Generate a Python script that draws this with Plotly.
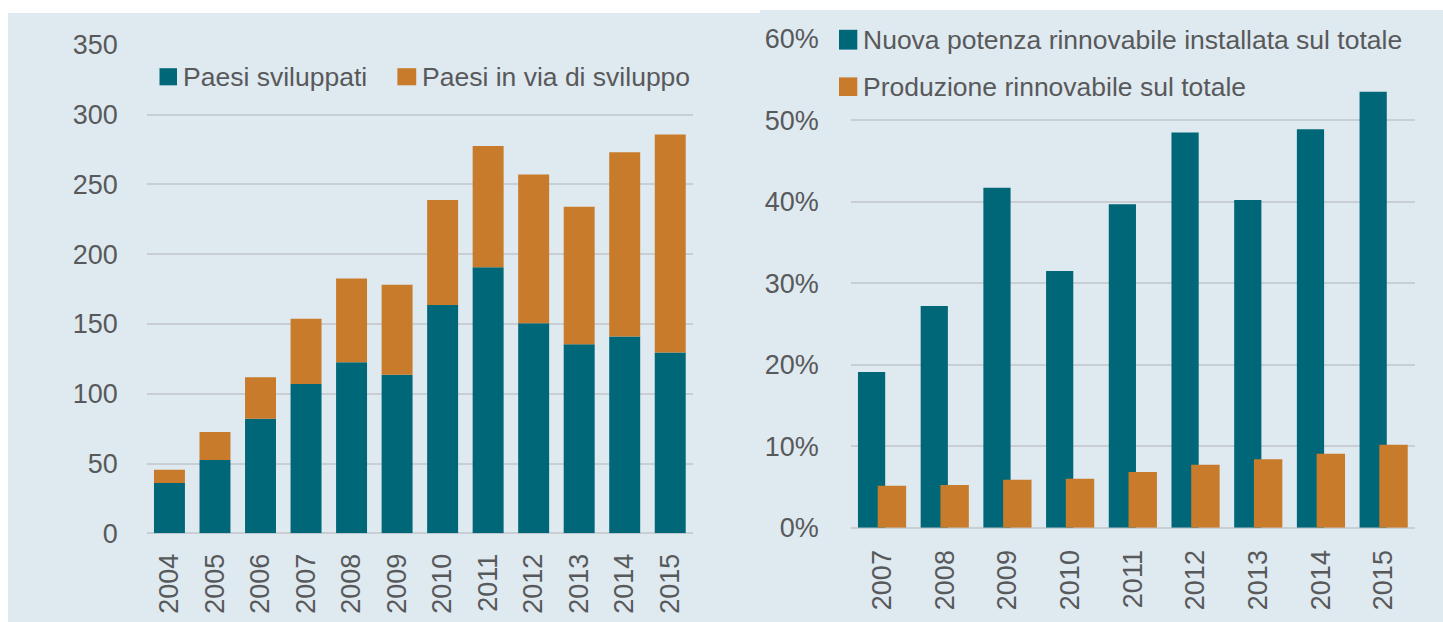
import plotly.graph_objects as go

# ---------------- data ----------------
years_left = ["2004", "2005", "2006", "2007", "2008", "2009",
              "2010", "2011", "2012", "2013", "2014", "2015"]
paesi_sviluppati = [36, 52.5, 82, 107, 122.5, 113.5, 163.5, 190.5, 150.5, 135.5, 141, 129.5]
paesi_in_via = [9.5, 20, 29.7, 46.7, 60, 64.5, 75.3, 87, 106.5, 98.5, 132, 156.2]
left_names = ["Paesi sviluppati", "Paesi in via di sviluppo"]

years_right = ["2007", "2008", "2009", "2010", "2011", "2012", "2013", "2014", "2015"]
nuova_potenza = [19.1, 27.2, 41.7, 31.5, 39.7, 48.5, 40.2, 48.9, 53.5]
produzione = [5.14, 5.24, 5.87, 6.01, 6.84, 7.71, 8.39, 9.07, 10.18]
right_names = ["Nuova potenza rinnovabile installata sul totale",
               "Produzione rinnovabile sul totale"]

left_ticks = [0, 50, 100, 150, 200, 250, 300, 350]
right_ticks = [0, 10, 20, 30, 40, 50, 60]
right_tick_labels = [f"{v}%" for v in right_ticks]

# ---------------- style ----------------
W, H = 1443, 622
TEAL = "#006778"
ORANGE = "#C87B2B"
BG = "#DFE9F0"
GRID = "#C9CED2"
TXT = "#58595B"
FONT = "Liberation Sans, Arial, sans-serif"
TICK_SIZE = 27
LEG_SIZE = 26.5


def fx(px):
    return px / W


def fy(py):
    return 1 - py / H


fig = go.Figure()

# left: stacked bars (overlay with base)
fig.add_trace(go.Bar(x=years_left, y=paesi_sviluppati, name=left_names[0],
                     marker=dict(color=TEAL, line=dict(width=0)), width=0.68,
                     xaxis="x", yaxis="y", showlegend=False))
fig.add_trace(go.Bar(x=years_left, y=paesi_in_via, base=paesi_sviluppati, name=left_names[1],
                     marker=dict(color=ORANGE, line=dict(width=0)), width=0.68,
                     xaxis="x", yaxis="y", showlegend=False))

# right: overlapping clustered bars
fig.add_trace(go.Bar(x=years_right, y=nuova_potenza, name=right_names[0],
                     marker=dict(color=TEAL, line=dict(width=0)), width=0.434, offset=-0.384,
                     xaxis="x2", yaxis="y2", showlegend=False))
fig.add_trace(go.Bar(x=years_right, y=produzione, name=right_names[1],
                     marker=dict(color=ORANGE, line=dict(width=0)), width=0.453, offset=-0.069,
                     xaxis="x2", yaxis="y2", showlegend=False))

tickfont = dict(family=FONT, size=TICK_SIZE, color=TXT)

xcommon = dict(type="category", showgrid=False, zeroline=False, showline=False, ticks="",
               tickangle=-90, tickfont=tickfont, automargin=False, fixedrange=True)
ycommon = dict(showgrid=True, gridcolor=GRID, gridwidth=1.5, zeroline=True, zerolinecolor=GRID,
               zerolinewidth=1.5, showline=False, ticks="", tickfont=tickfont, automargin=False,
               fixedrange=True, tickmode="array")

fig.update_layout(
    width=W, height=H,
    margin=dict(l=0, r=0, t=0, b=0),
    paper_bgcolor="white",
    plot_bgcolor="rgba(0,0,0,0)",
    barmode="overlay",
    font=dict(family=FONT, color=TXT),
    xaxis=dict(xcommon, domain=[fx(146.7), fx(693)], range=[-0.5, 11.5],
               anchor="y", ticklabelstandoff=14),
    yaxis=dict(ycommon, domain=[fy(533.3), fy(44.7)], range=[0, 350], tickvals=left_ticks,
               ticktext=[str(v) for v in left_ticks], anchor="x", ticklabelstandoff=28),
    xaxis2=dict(xcommon, domain=[fx(850.7), fx(1415)], range=[-0.5, 8.5],
                anchor="y2", ticklabelstandoff=16),
    yaxis2=dict(ycommon, domain=[fy(527.7), fy(38.7)], range=[0, 60], tickvals=right_ticks,
                ticktext=right_tick_labels, anchor="x2", ticklabelstandoff=31),
)

shapes = [
    dict(type="rect", xref="paper", yref="paper", x0=fx(8), x1=fx(760), y0=0, y1=fy(13),
         fillcolor=BG, line=dict(width=0), layer="below"),
    dict(type="rect", xref="paper", yref="paper", x0=fx(760), x1=1, y0=0, y1=fy(10),
         fillcolor=BG, line=dict(width=0), layer="below"),
]

annotations = []


def legend_item(sx0, sx1, sy0, sy1, color, text, tx, ty, size):
    shapes.append(dict(type="rect", xref="paper", yref="paper", x0=fx(sx0), x1=fx(sx1),
                       y0=fy(sy1), y1=fy(sy0), fillcolor=color, line=dict(width=0), layer="above"))
    annotations.append(dict(xref="paper", yref="paper", x=fx(tx), y=fy(ty), text=text,
                            showarrow=False, xanchor="left", yanchor="middle",
                            font=dict(family=FONT, size=size, color=TXT)))


legend_item(159.5, 177, 68.2, 85.3, TEAL, left_names[0], 181, 77, LEG_SIZE)
legend_item(397.4, 416.2, 68.2, 85.3, ORANGE, left_names[1], 420, 77, LEG_SIZE)
legend_item(839, 857.3, 29.8, 49.6, TEAL, right_names[0], 861, 40, LEG_SIZE)
legend_item(839, 857.3, 77.4, 96, ORANGE, right_names[1], 861, 86.5, LEG_SIZE)

fig.update_layout(shapes=shapes, annotations=annotations)

fig.write_html("out.html", config={"displayModeBar": False},
               post_script="document.body.style.margin='0';document.body.style.overflow='hidden';")
